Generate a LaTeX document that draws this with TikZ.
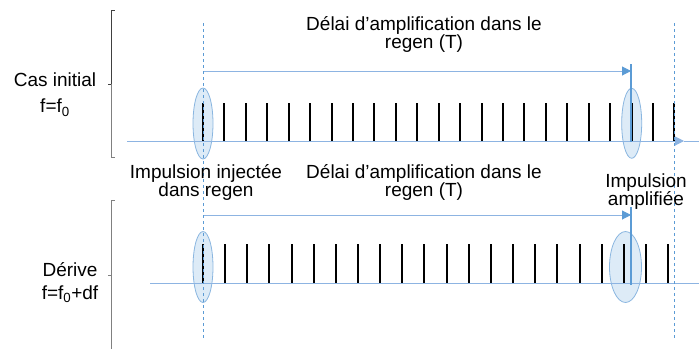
\documentclass[tikz,border=0pt]{standalone}
\usepackage{fontspec}
\setmainfont{Liberation Sans}
\usepackage{tikz}
\usetikzlibrary{arrows.meta,positioning,shapes.geometric}

\definecolor{axisblue}{RGB}{141,180,226}
\definecolor{markblue}{RGB}{91,155,213}
\definecolor{pulsefill}{RGB}{221,235,247}
\definecolor{pulseline}{RGB}{138,182,224}

\tikzset{
	lbl/.style={align=center,anchor=base,inner sep=0pt,font=\fontsize{19}{18}\selectfont},
	pulse/.style={ellipse,draw=pulseline,fill=pulsefill,line width=0.8pt,inner sep=0pt},
	axis/.style={draw=axisblue,line width=1pt,-{Triangle[length=9pt,width=9pt]}},
	delay/.style={draw=axisblue,line width=1pt,-{Triangle[length=9pt,width=9pt,color=markblue]}},
	marker/.style={draw=markblue,line width=2pt},
	tick/.style={draw=black,line width=2pt},
	guide/.style={draw=markblue,line width=0.7pt,dash pattern=on 3pt off 3pt},
	bracket/.style={draw=gray,line width=1pt}
}

\begin{document}
\begin{tikzpicture}[x=1pt,y=-1pt]
				\useasboundingbox (0,0) rectangle (699,349);

				% Left labels and brackets
				\node[lbl] (cas) at (55,112.7) {Cas initial\\[8pt]f=f\textsubscript{0}};
				\node[lbl] (der) at (70,299.3) {Dérive\\[4.6pt]f=f\textsubscript{0}+df};
				\draw[bracket,draw=black!75] (108,84) -- (111,84) -- (111,10) -- (115,10);
				\draw[bracket] (111,84) -- (111,157) -- (115,157);
				\draw[bracket] (108,275) -- (111,275);
				\draw[bracket] (115,200) -- (111,200) -- (111,349);

				% Pulses (injected / amplified)
				\node[pulse,minimum width=20pt,minimum height=71pt] (injTop) at (203,123.5) {};
				\node[pulse,minimum width=20pt,minimum height=70pt] (ampTop) at (631.7,123.3) {};
				\node[pulse,minimum width=20pt,minimum height=71pt] (injBot) at (203,267) {};
				\node[pulse,minimum width=32pt,minimum height=71pt] (ampBot) at (625.5,267) {};

				% Time axes
				\coordinate (axTopL) at (127,141);
				\coordinate (axTopR) at (684,141);
				\coordinate (axTopE) at (708,141);
				\coordinate (axBotL) at (150,283);
				\coordinate (axBotE) at (708,283);
				\draw[axis] (axTopL) -- (axTopR);
				\draw[axis] (axTopR) -- (axTopE);
				\draw[axis] (axBotL) -- (axBotE);

				% Round trips in the cavity
				\foreach \i in {0,...,22}
					\draw[tick] ({203+round(\i*21.43)},103) -- ++(0,38);
				\foreach \i in {0,...,21}
					\draw[tick] ({203+round(\i*22.15)},244) -- ++(0,39);

				% Amplification delay (T)
				\coordinate (mTopUp) at (631,64);
				\coordinate (mTopDn) at (631,142);
				\coordinate (mBotUp) at (631,207);
				\coordinate (mBotDn) at (631,285);
				\coordinate (tTop) at (203,71);
				\coordinate (tBot) at (203,215);
				\draw[marker] (mTopUp) -- (mTopDn);
				\draw[marker] (mBotUp) -- (mBotDn);
				\draw[delay] (tTop) -- (tTop -| mTopUp);
				\draw[delay] (tBot) -- (tBot -| mBotUp);

				% Guides
				\coordinate (gA1) at (203,23);
				\coordinate (gA2) at (203,339);
				\coordinate (gB1) at (674,23);
				\coordinate (gB2) at (674,340);
				\draw[guide] (gA1) -- (gA2);
				\draw[guide] (gB1) -- (gB2);

				% Texts
				\node[lbl] (delTop) at (424,48) {Délai d’amplification dans le\\regen (T)};
				\node[lbl] (delBot) at (424,196.5) {Délai d’amplification dans le\\regen (T)};
				\node[lbl] (inj) at (206,196.5) {Impulsion injectée\\dans regen};
				\node[lbl] (amp) at (646,205.5) {Impulsion\\amplifiée};
			\end{tikzpicture}
\end{document}
